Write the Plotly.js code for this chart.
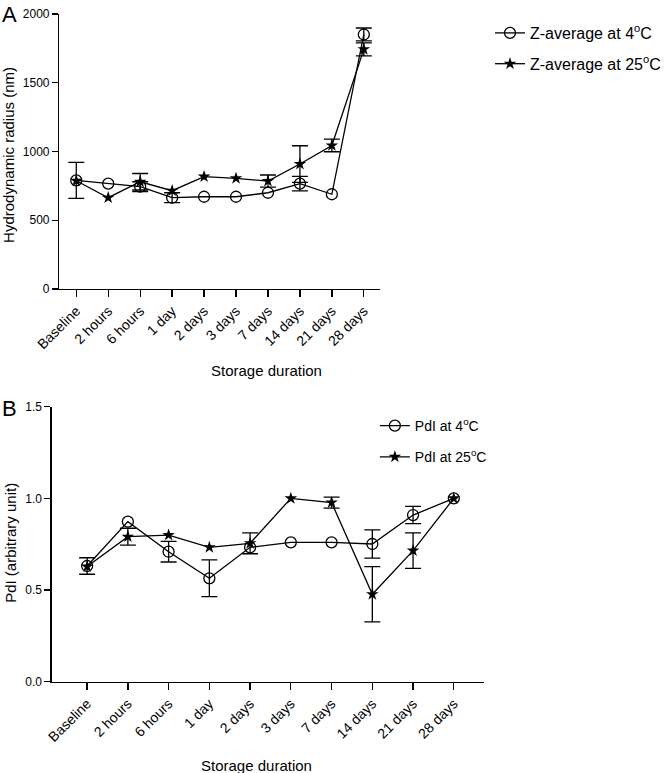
<!DOCTYPE html>
<html>
<head>
<meta charset="utf-8">
<script src="https://cdn.plot.ly/plotly-3.0.1.min.js"></script>
<style>html,body{margin:0;padding:0;background:#fff}#chart{width:666px;height:773px}</style>
</head>
<body>
<div id="chart"></div>
<script>
const categories = ['Baseline','2 hours','6 hours','1 day','2 days','3 days','7 days','14 days','21 days','28 days'];
const zAvg4 = [790, 766, 744, 664, 671, 671, 700, 766, 689, 1851];
const zAvg4Err = [131, NaN, 36, 36, NaN, NaN, NaN, 53, NaN, 47];
const zAvg25 = [787, 664, 780, 715, 817, 805, 785, 909, 1044, 1743];
const zAvg25Err = [NaN, NaN, 60, NaN, NaN, NaN, 44, 133, 46, 47];
const pdi4 = [0.631, 0.873, 0.709, 0.564, 0.733, 0.760, 0.760, 0.751, 0.909, 1.0];
const pdi4Err = [0.045, NaN, 0.056, 0.100, NaN, NaN, NaN, 0.077, 0.047, NaN];
const pdi25 = [0.628, 0.791, 0.800, 0.733, 0.755, 1.0, 0.977, 0.477, 0.715, 1.0];
const pdi25Err = [NaN, 0.046, NaN, NaN, 0.057, NaN, 0.030, 0.151, 0.097, NaN];
const topYTicks = [0, 500, 1000, 1500, 2000];
const botYTicks = [0, 0.5, 1.0, 1.5];

const W = 666, H = 773;
const px = v => v / W;
const py = v => 1 - v / H;
const FONT = 'Liberation Sans, Arial, Helvetica, sans-serif';
const BLACK = '#000';

function series(y, err, name, symbol, xa, ya, legend, group) {
  return {
    type: 'scatter', mode: 'lines+markers', x: categories, y: y, name: name,
    xaxis: xa, yaxis: ya, legend: legend, legendgroup: group,
    line: {color: BLACK, width: 1.3},
    marker: symbol === 'circle'
      ? {symbol: 'circle-open', size: 11, color: BLACK, line: {width: 1.3, color: BLACK}}
      : {symbol: 'star', size: 9.5, color: BLACK, line: {width: 0}},
    error_y: {type: 'data', array: err, visible: true, color: BLACK, thickness: 1.3, width: 8}
  };
}

const data = [
  series(zAvg4, zAvg4Err, 'Z-average at 4<sup>o</sup>C', 'circle', 'x', 'y', 'legend', 'a'),
  series(zAvg25, zAvg25Err, 'Z-average at 25<sup>o</sup>C', 'star', 'x', 'y', 'legend', 'b'),
  series(pdi4, pdi4Err, 'PdI at 4<sup>o</sup>C', 'circle', 'x2', 'y2', 'legend2', 'c'),
  series(pdi25, pdi25Err, 'PdI at 25<sup>o</sup>C', 'star', 'x2', 'y2', 'legend2', 'd')
];

const xCommon = {
  type: 'category', showline: true, linecolor: BLACK, linewidth: 1.3,
  ticks: 'outside', ticklen: 7, tickwidth: 1.3, tickcolor: BLACK,
  tickangle: -45, tickfont: {family: FONT, size: 14, color: BLACK},
  showgrid: false, zeroline: false, automargin: false, fixedrange: true
};
const yCommon = {
  showline: true, linecolor: BLACK, linewidth: 1.3,
  ticks: 'outside', ticklen: 6, tickwidth: 1.3, tickcolor: BLACK,
  tickfont: {family: FONT, size: 12, color: BLACK},
  showgrid: false, zeroline: false, automargin: false, fixedrange: true
};

const layout = {
  width: W, height: H,
  margin: {l: 0, r: 0, t: 0, b: 0},
  paper_bgcolor: '#fff', plot_bgcolor: '#fff',
  font: {family: FONT, color: BLACK},
  xaxis: Object.assign({}, xCommon, {domain: [px(60), px(385)], range: [-0.535, 9.5], anchor: 'y'}),
  yaxis: Object.assign({}, yCommon, {domain: [py(289), py(14)], range: [0, 2000], tickvals: topYTicks, ticktext: topYTicks.map(String), anchor: 'x'}),
  xaxis2: Object.assign({}, xCommon, {domain: [px(52.3), px(491)], range: [-0.872, 9.75], anchor: 'y2'}),
  yaxis2: Object.assign({}, yCommon, {domain: [py(681.7), py(406.7)], range: [0, 1.5], tickvals: botYTicks, ticktext: botYTicks.map(v => v.toFixed(1)), anchor: 'x2'}),
  legend: {x: px(497), y: py(16), xanchor: 'left', yanchor: 'top', traceorder: 'grouped', tracegroupgap: 7,
           bgcolor: 'rgba(0,0,0,0)', font: {family: FONT, size: 16, color: BLACK}},
  legend2: {x: px(380), y: py(410), xanchor: 'left', yanchor: 'top', traceorder: 'grouped', tracegroupgap: 10,
            bgcolor: 'rgba(0,0,0,0)', font: {family: FONT, size: 14, color: BLACK}},
  showlegend: true,
  annotations: [
    {text: 'A', xref: 'paper', yref: 'paper', x: px(0), y: py(0), xanchor: 'left', yanchor: 'top', showarrow: false, font: {family: FONT, size: 22, color: BLACK}},
    {text: 'B', xref: 'paper', yref: 'paper', x: px(0), y: py(394), xanchor: 'left', yanchor: 'top', showarrow: false, font: {family: FONT, size: 22, color: BLACK}},
    {text: 'Hydrodynamic radius (nm)', xref: 'paper', yref: 'paper', x: px(8), y: py(155), textangle: -90, xanchor: 'center', yanchor: 'middle', showarrow: false, font: {family: FONT, size: 15, color: BLACK}},
    {text: 'PdI (arbitrary unit)', xref: 'paper', yref: 'paper', x: px(10), y: py(543), textangle: -90, xanchor: 'center', yanchor: 'middle', showarrow: false, font: {family: FONT, size: 15, color: BLACK}},
    {text: 'Storage duration', xref: 'paper', yref: 'paper', x: px(270), y: py(371), xanchor: 'center', yanchor: 'middle', showarrow: false, font: {family: FONT, size: 15, color: BLACK}},
    {text: 'Storage duration', xref: 'paper', yref: 'paper', x: px(260), y: py(765), xanchor: 'center', yanchor: 'middle', showarrow: false, font: {family: FONT, size: 15, color: BLACK}}
  ]
};

Plotly.newPlot('chart', data, layout, {displayModeBar: false, staticPlot: true});
</script>
</body>
</html>
